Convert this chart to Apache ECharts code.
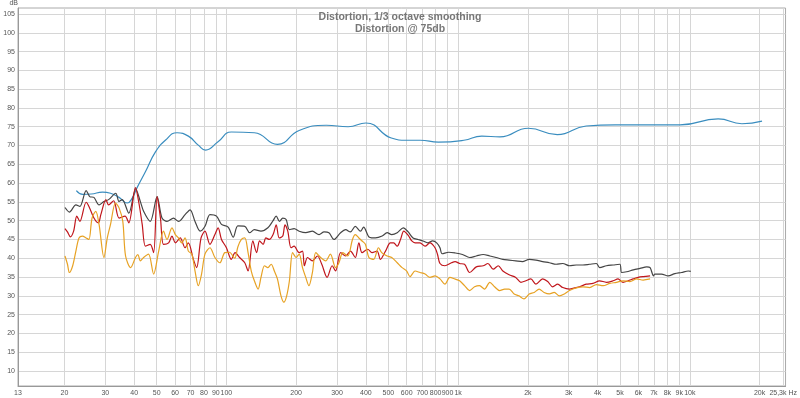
<!DOCTYPE html>
<html>
<head>
<meta charset="utf-8">
<script src="https://cdn.jsdelivr.net/npm/echarts@6/dist/echarts.min.js"></script>
<style>
  html, body { margin: 0; padding: 0; background: #fff; }
  #chart { width: 800px; height: 398px; }
</style>
</head>
<body>
<div id="chart"></div>
<script>
// axis ticks
var xTickValues = [12.6, 20, 30, 40, 50, 60, 70, 80, 90, 100, 200, 300, 400, 500, 600, 700, 800, 900,
    1000, 2000, 3000, 4000, 5000, 6000, 7000, 8000, 9000, 10000, 20000, 25300];
var xTickLabels = ['13', '20', '30', '40', '50', '60', '70', '80', '90', '100', '200', '300', '400', '500',
    '600', '700', '800', '900', '1k', '2k', '3k', '4k', '5k', '6k', '7k', '8k', '9k', '10k', '20k', '25,3k Hz'];
var yTickValues = [10, 15, 20, 25, 30, 35, 40, 45, 50, 55, 60, 65, 70, 75, 80, 85, 90, 95, 100, 105];

// [Hz, dB]
var fundamental = [
    [22.5, 58.0], [24.0, 57.0], [26.1, 57.1], [29.2, 57.6], [31.6, 57.3], [34.4, 56.2], [37.3, 54.7],
    [39.2, 56.0], [41, 58.6], [44.7, 63.0], [49.4, 68.3], [54.5, 71.4], [61.2, 73.4], [68.5, 72.5],
    [75.6, 70.1], [81.3, 68.8], [92, 71.0], [105, 73.6], [132, 73.4], [166, 70.3], [206, 74.0],
    [270, 75.4], [335, 75.0], [400, 76.0], [515, 72.0], [600, 71.4], [686, 71.4], [822, 70.9],
    [1059, 71.4], [1265, 72.5], [1516, 72.3], [2010, 74.6], [2680, 72.9], [3570, 75.2], [4760, 75.5],
    [6800, 75.5], [9080, 75.5], [13260, 77.1], [16780, 75.8], [20500, 76.5]
];

var thd = [
    [20.1, 53.5], [21.0, 52.3], [22.4, 54.2], [23.3, 53.8], [24.8, 58.0], [25.7, 56.4], [26.8, 56.2],
    [28.2, 54.2], [29.6, 55.1], [31.0, 55.6], [33.3, 57.3], [34.4, 55.1], [35.5, 55.6], [37.9, 52.0],
    [40.6, 58.5], [42.5, 55.1], [43.9, 52.5], [46.9, 49.8], [50.2, 56.4], [52.7, 50.7], [55.4, 49.8],
    [59.1, 50.7], [62.1, 49.8], [66.3, 51.6], [69.7, 52.9], [73.2, 49.8], [77, 47.2], [80.8, 48.5],
    [84.9, 51.6], [90.6, 51.2], [95.2, 49.0], [101.7, 48.3], [107, 45.6], [112, 48.6], [120, 48.5],
    [126, 46.8], [132, 47.6], [141, 47.2], [151, 48.1], [159, 50.0], [164, 51.2], [169.5, 49.8],
    [175, 50.7], [181, 50.3], [187, 47.6], [196, 47.9], [206, 47.2], [220, 46.8], [235, 47.2],
    [251, 46.3], [264, 47.0], [277, 46.8], [291, 45.0], [311, 46.8], [327, 47.6], [343, 47.0],
    [360, 48.5], [379, 47.2], [391, 48.3], [414, 45.6], [440, 45.4], [470, 45.9], [494, 46.8],
    [517, 46.3], [546, 46.8], [580, 48.1], [609, 47.0], [639, 45.4], [672, 45.0], [706, 44.6],
    [740, 44.1], [776, 44.6], [808, 44.1], [835, 42.8], [853, 41.2], [911, 41.6], [971, 41.4],
    [1044, 41.0], [1121, 40.2], [1198, 40.6], [1283, 41.0], [1370, 40.6], [1459, 40.2], [1560, 39.7],
    [1660, 39.5], [1773, 39.3], [1895, 39.1], [2027, 39.7], [2167, 39.5], [2317, 39.1], [2477, 38.8],
    [2648, 38.4], [2830, 38.6], [3026, 38.0], [3234, 38.2], [3458, 38.2], [3695, 38.4], [3951, 38.6],
    [4083, 37.5], [4366, 38.0], [4668, 38.2], [4990, 38.4], [5080, 36.2], [5337, 36.4], [5705, 36.9],
    [6099, 37.3], [6520, 37.7], [6741, 37.5], [6973, 35.3], [7059, 35.8], [7545, 35.8], [8066, 35.3],
    [8623, 35.9], [9218, 36.2], [9855, 36.6], [10100, 36.5]
];

var harmonic2 = [
    [20.1, 47.9], [20.6, 47.0], [21.2, 45.7], [21.9, 47.2], [22.6, 51.2], [23.3, 49.8], [24.8, 54.9],
    [25.5, 53.8], [26.8, 50.7], [28.0, 49.4], [28.7, 51.6], [30.2, 55.6], [31.0, 54.2], [32.6, 55.3],
    [34.4, 50.7], [36.5, 51.2], [37.9, 49.4], [40.5, 58.8], [41.9, 54.7], [43.3, 49.0], [44.7, 43.2],
    [46.9, 43.7], [48.5, 41.5], [50.2, 56.4], [51.9, 50.7], [53.5, 43.7], [56.3, 44.1], [58.2, 45.9],
    [60.2, 44.1], [63.2, 45.4], [66.3, 42.8], [68.5, 44.1], [72.0, 39.7], [74.4, 37.5], [77.7, 45.4],
    [80.8, 47.2], [84.9, 43.7], [89.2, 46.3], [92.1, 48.1], [95.2, 45.0], [100, 42.8], [105, 39.7],
    [109, 41.5], [114, 40.2], [120, 38.8], [124, 36.6], [130, 44.6], [135, 41.5], [139, 44.6],
    [144, 43.7], [148, 45.4], [153, 45.0], [159, 46.3], [164, 48.9], [169, 45.4], [175, 45.9],
    [179, 48.9], [184, 47.2], [190, 42.8], [196, 43.2], [206, 41.5], [213, 41.9], [217, 38.0],
    [224, 40.2], [235, 39.3], [247, 40.6], [258, 38.4], [272, 34.9], [286, 38.0], [296, 36.6],
    [311, 41.5], [327, 40.6], [343, 41.9], [360, 40.2], [373, 44.1], [385, 41.5], [407, 42.4],
    [425, 41.5], [447, 41.9], [462, 39.7], [486, 41.9], [510, 44.1], [527, 44.1], [546, 43.2],
    [564, 45.0], [583, 47.2], [612, 45.9], [631, 44.6], [652, 44.1], [685, 44.1], [720, 43.2],
    [756, 44.1], [795, 42.8], [815, 41.0], [835, 38.6], [877, 38.0], [936, 38.8], [971, 39.1],
    [1015, 38.6], [1066, 38.4], [1121, 36.2], [1198, 37.7], [1283, 38.0], [1345, 38.6], [1417, 37.1],
    [1490, 38.0], [1560, 36.6], [1660, 35.6], [1773, 34.9], [1866, 33.6], [1960, 34.0], [2060, 34.5],
    [2167, 33.1], [2317, 34.5], [2436, 33.8], [2560, 32.4], [2690, 33.1], [2830, 32.2], [3026, 31.8],
    [3180, 32.1], [3343, 32.4], [3570, 33.1], [3820, 33.3], [4080, 34.0], [4366, 33.6], [4668, 34.0],
    [4900, 34.5], [5150, 33.6], [5420, 34.0], [5705, 34.5], [5990, 34.9], [6290, 35.1], [6741, 35.3]
];

var harmonic3 = [
    [20.1, 40.6], [20.6, 38.4], [21.0, 36.2], [21.7, 38.0], [22.4, 41.9], [23.1, 45.4], [23.9, 45.9],
    [24.8, 45.4], [25.5, 45.0], [26.3, 50.7], [27.3, 52.5], [28.2, 49.0], [29.6, 40.2], [30.6, 45.4],
    [31.6, 49.0], [33.2, 54.7], [34.4, 53.4], [35.7, 49.8], [36.7, 40.6], [38.6, 37.5], [40.5, 40.2],
    [41.5, 41.0], [42.5, 39.3], [43.9, 40.2], [46.1, 41.1], [48.5, 35.8], [51.0, 41.9], [53.5, 47.2],
    [55.4, 45.0], [58.2, 48.1], [60.2, 46.3], [62.1, 45.4], [64.1, 44.1], [66.3, 45.4], [68.5, 41.9],
    [70.9, 41.1], [73.2, 36.6], [75.6, 32.7], [78.1, 35.8], [80.8, 41.1], [84.9, 42.8], [89.2, 40.2],
    [93.7, 38.8], [98.4, 41.5], [103, 41.6], [108.6, 40.0], [112, 43.0], [116, 45.0], [120, 45.4],
    [124, 41.5], [128, 36.6], [132, 34.0], [137, 31.8], [141, 34.9], [146, 38.0], [151, 37.5],
    [156, 38.4], [161, 36.6], [166, 34.5], [172, 30.0], [177, 28.3], [182, 30.0], [187, 34.0],
    [193, 41.5], [200, 40.2], [206, 41.1], [213, 37.5], [220, 34.9], [227, 32.7], [235, 36.2],
    [243, 41.5], [255, 40.2], [268, 39.3], [281, 41.1], [296, 37.5], [306, 38.8], [318, 41.5],
    [334, 40.6], [350, 45.0], [360, 46.3], [373, 45.4], [385, 44.6], [398, 43.7], [412, 40.2],
    [432, 39.7], [453, 42.8], [468, 41.5], [494, 40.6], [517, 40.2], [546, 38.8], [573, 37.5],
    [600, 36.6], [620, 35.1], [652, 36.6], [685, 36.2], [720, 35.8], [756, 34.9], [795, 35.3],
    [835, 34.5], [877, 33.1], [921, 34.9], [967, 34.5], [1015, 34.0], [1066, 32.7], [1121, 31.4],
    [1178, 32.4], [1237, 32.7], [1300, 31.8], [1370, 33.6], [1437, 32.4], [1510, 31.4], [1588, 31.8],
    [1660, 31.8], [1745, 30.5], [1830, 30.0], [1925, 29.2], [2027, 30.5], [2130, 30.9], [2237, 31.8],
    [2350, 30.9], [2477, 30.5], [2600, 30.9], [2735, 30.0], [2875, 30.5], [3026, 31.4], [3234, 32.1],
    [3458, 32.4], [3695, 32.2], [3951, 33.0], [4225, 32.7], [4515, 33.3], [4826, 33.6], [5155, 34.0],
    [5515, 33.8], [5897, 34.5], [6290, 34.2], [6741, 34.5]
];

var chart = echarts.init(document.getElementById('chart'));

var labelFont = { fontSize: 7, color: '#555', fontFamily: 'Liberation Sans, Arial, sans-serif' };

function lineSeries(name, data, color, smooth) {
    return {
        name: name,
        type: 'line',
        data: data,
        showSymbol: false,
        smooth: smooth,
        silent: true,
        lineStyle: { color: color, width: 1.2 },
        z: 3
    };
}

var option = {
    animation: false,
    backgroundColor: '#fff',
    title: {
        text: 'Distortion, 1/3 octave smoothing\nDistortion @ 75db',
        left: 'center',
        top: 6,
        textStyle: {
            fontSize: 10.5,
            fontWeight: 'bold',
            color: '#777',
            lineHeight: 12,
            fontFamily: 'Liberation Sans, Arial, sans-serif'
        }
    },
    grid: {
        left: 18, right: 8, top: 5, bottom: 12,
        show: true, borderColor: '#aaa', borderWidth: 1
    },
    xAxis: {
        type: 'log',
        logBase: 10,
        min: 12.6,
        max: 25900,
        axisLine: { show: true, lineStyle: { color: '#999' } },
        axisTick: { show: false, customValues: xTickValues },
        splitLine: { show: true, lineStyle: { color: '#d6d6d6', width: 1 } },
        axisLabel: Object.assign({
            customValues: xTickValues,
            margin: 4,
            formatter: function (v) {
                var i = xTickValues.indexOf(v);
                return i >= 0 ? xTickLabels[i] : '';
            }
        }, labelFont)
    },
    yAxis: {
        type: 'value',
        min: 6,
        max: 106.6,
        name: 'dB',
        nameLocation: 'end',
        nameGap: 1,
        nameTextStyle: Object.assign({ align: 'right', padding: [0, 0, 0, 0] }, labelFont),
        axisLine: { show: true, lineStyle: { color: '#999' } },
        axisTick: { show: false, customValues: yTickValues },
        splitLine: { show: true, lineStyle: { color: '#d6d6d6', width: 1 } },
        axisLabel: Object.assign({ customValues: yTickValues, margin: 3 }, labelFont)
    },
    series: [
        lineSeries('Fundamental', fundamental, '#3a8dbf', true),
        lineSeries('THD', thd, '#454545', 0.3),
        lineSeries('H2', harmonic2, '#c0161c', 0.3),
        lineSeries('H3', harmonic3, '#e7a224', 0.3)
    ]
};

chart.setOption(option);
</script>
</body>
</html>
